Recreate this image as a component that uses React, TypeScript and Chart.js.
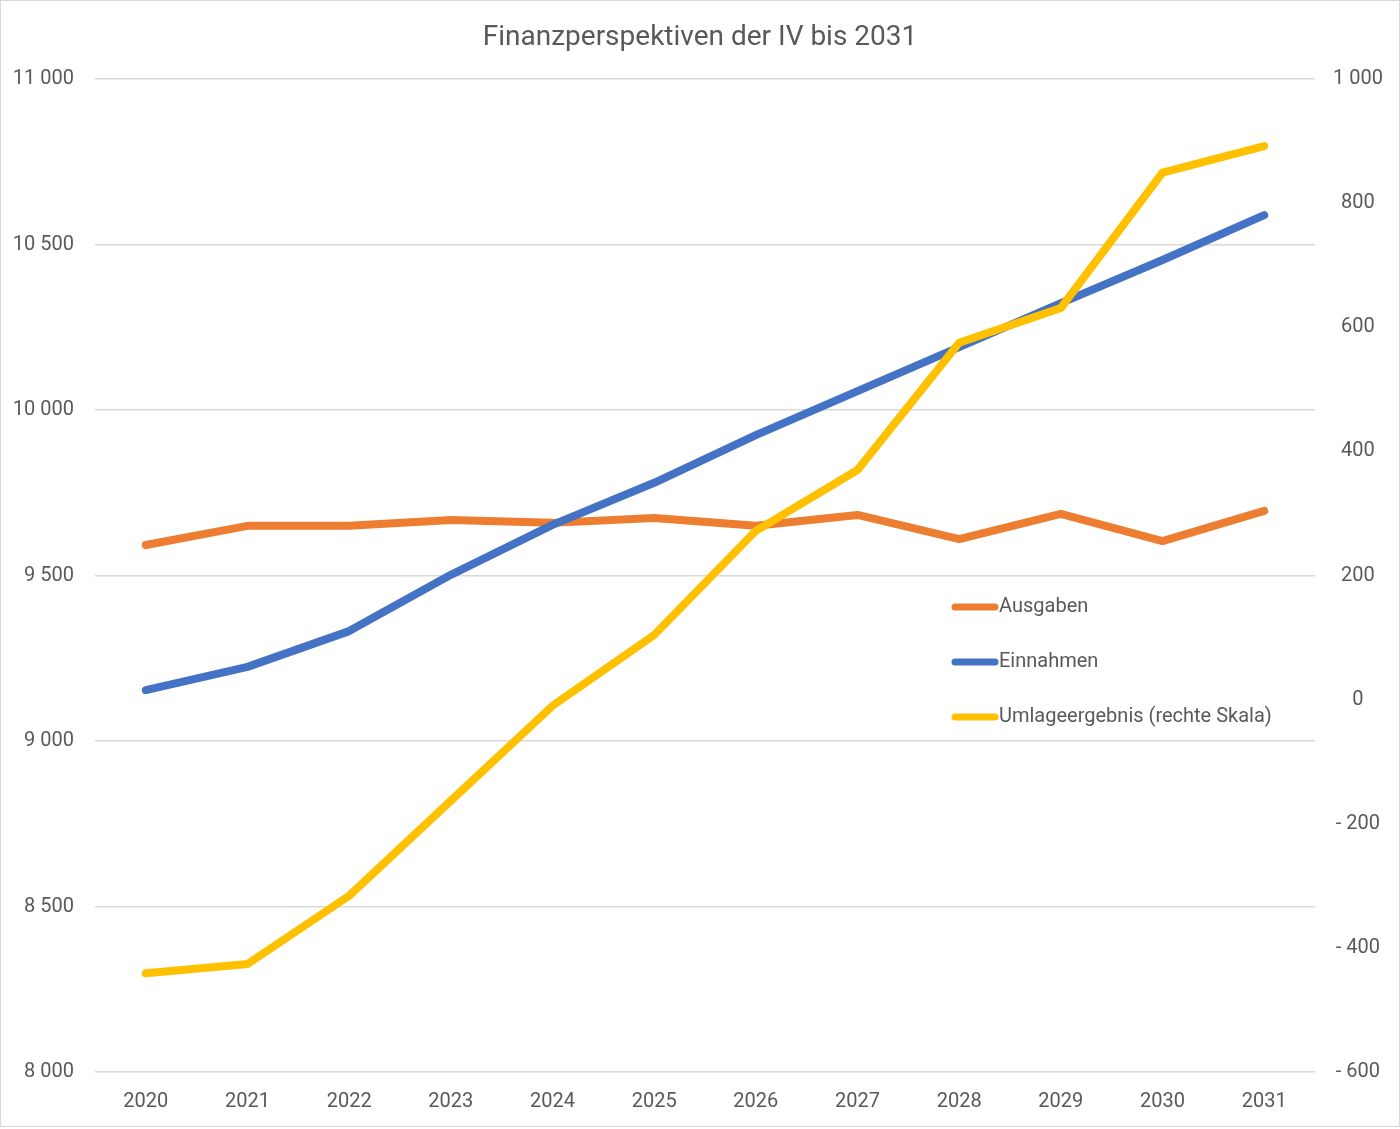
import React, { useEffect, useRef } from "react";
import { Chart, registerables } from "chart.js";

Chart.register(...registerables);

const years = ["2020", "2021", "2022", "2023", "2024", "2025", "2026", "2027", "2028", "2029", "2030", "2031"];
const ausgaben = [9592, 9650, 9650, 9668, 9659, 9674, 9650, 9683, 9610, 9686, 9604, 9695];
const einnahmen = [9154, 9224, 9332, 9502, 9653, 9780, 9924, 10057, 10190, 10323, 10453, 10589];
const umlage = [-441, -426, -316, -163, -10, 104, 272, 370, 575, 631, 849, 892];

const seriesNames = ["Ausgaben", "Einnahmen", "Umlageergebnis (rechte Skala)"];
const seriesColors = ["#ED7D31", "#4472C4", "#FFC000"];
const title = "Finanzperspektiven der IV bis 2031";

const textColor = "#595959";
const gridColor = "#d9d9d9";
const fontFamily = "Roboto, 'Noto Sans', sans-serif";

function fmt(v: number): string {
  const s = Math.abs(v).toString().replace(/\B(?=(\d{3})+(?!\d))/g, " ");
  return v < 0 ? "- " + s : s;
}

const legendPlugin = {
  id: "inlineLegend",
  afterDatasetsDraw(chart: any) {
    const { ctx, chartArea } = chart;
    const x0 = chartArea.left + 860;
    const y0 = chartArea.top + 528;
    const rowGap = 55;
    ctx.save();
    ctx.font = `20px ${fontFamily}`;
    ctx.textBaseline = "middle";
    ctx.textAlign = "left";
    seriesNames.forEach((name, i) => {
      const y = y0 + i * rowGap;
      ctx.strokeStyle = seriesColors[i];
      ctx.lineWidth = 7;
      ctx.lineCap = "round";
      ctx.beginPath();
      ctx.moveTo(x0, y);
      ctx.lineTo(x0 + 40, y);
      ctx.stroke();
      ctx.fillStyle = textColor;
      ctx.fillText(name, x0 + 44, y);
    });
    ctx.restore();
  },
};

export default function App() {
  const ref = useRef<HTMLCanvasElement>(null);

  useEffect(() => {
    document.body.style.margin = "0";
    const canvas = ref.current;
    if (!canvas) return;
    const lineStyle = (color: string) => ({
      borderColor: color,
      backgroundColor: color,
      borderWidth: 8,
      pointRadius: 0,
      tension: 0,
      borderCapStyle: "round" as const,
      borderJoinStyle: "round" as const,
      fill: false,
    });
    const tickFont = { family: fontFamily, size: 20 };
    const chart = new Chart(canvas, {
      type: "line",
      data: {
        labels: years,
        datasets: [
          { label: seriesNames[0], data: ausgaben, yAxisID: "y", order: 3, ...lineStyle(seriesColors[0]) },
          { label: seriesNames[1], data: einnahmen, yAxisID: "y", order: 2, ...lineStyle(seriesColors[1]) },
          { label: seriesNames[2], data: umlage, yAxisID: "y1", order: 1, ...lineStyle(seriesColors[2]) },
        ],
      },
      options: {
        responsive: false,
        animation: false,
        layout: { padding: { top: 20, left: 0, right: 0, bottom: 0 } },
        plugins: {
          legend: { display: false },
          tooltip: { enabled: false },
          title: {
            display: true,
            text: title,
            color: textColor,
            font: { family: fontFamily, size: 28, weight: "normal" },
            padding: { top: 0, bottom: 24.4 },
          },
        },
        scales: {
          x: {
            offset: true,
            grid: { display: false, drawTicks: false },
            border: { display: false },
            ticks: { color: textColor, font: tickFont, padding: 18 },
            afterFit(scale: any) {
              scale.height = 54;
            },
          },
          y: {
            position: "left",
            min: 8000,
            max: 11000,
            ticks: {
              stepSize: 500,
              color: textColor,
              font: tickFont,
              padding: 21,
              callback: (v: any) => fmt(Number(v)),
            },
            grid: { color: gridColor, lineWidth: 1.5, drawTicks: false },
            border: { display: false },
            afterFit(scale: any) {
              scale.width = 94;
            },
          },
          y1: {
            position: "right",
            min: -600,
            max: 1000,
            ticks: {
              stepSize: 200,
              color: textColor,
              font: tickFont,
              padding: 18,
              crossAlign: "center",
              callback: (v: any) => fmt(Number(v)),
            },
            grid: { display: false, drawTicks: false },
            border: { display: false },
            afterFit(scale: any) {
              scale.width = 84;
            },
          },
        },
      },
      plugins: [legendPlugin],
    });
    return () => chart.destroy();
  }, []);

  return (
    <div
      style={{
        position: "fixed",
        left: 0,
        top: 0,
        width: 1398,
        height: 1125,
        border: "1px solid #d9d9d9",
        background: "#fff",
      }}
    >
      <canvas ref={ref} width={1398} height={1125} style={{ display: "block" }} />
    </div>
  );
}
